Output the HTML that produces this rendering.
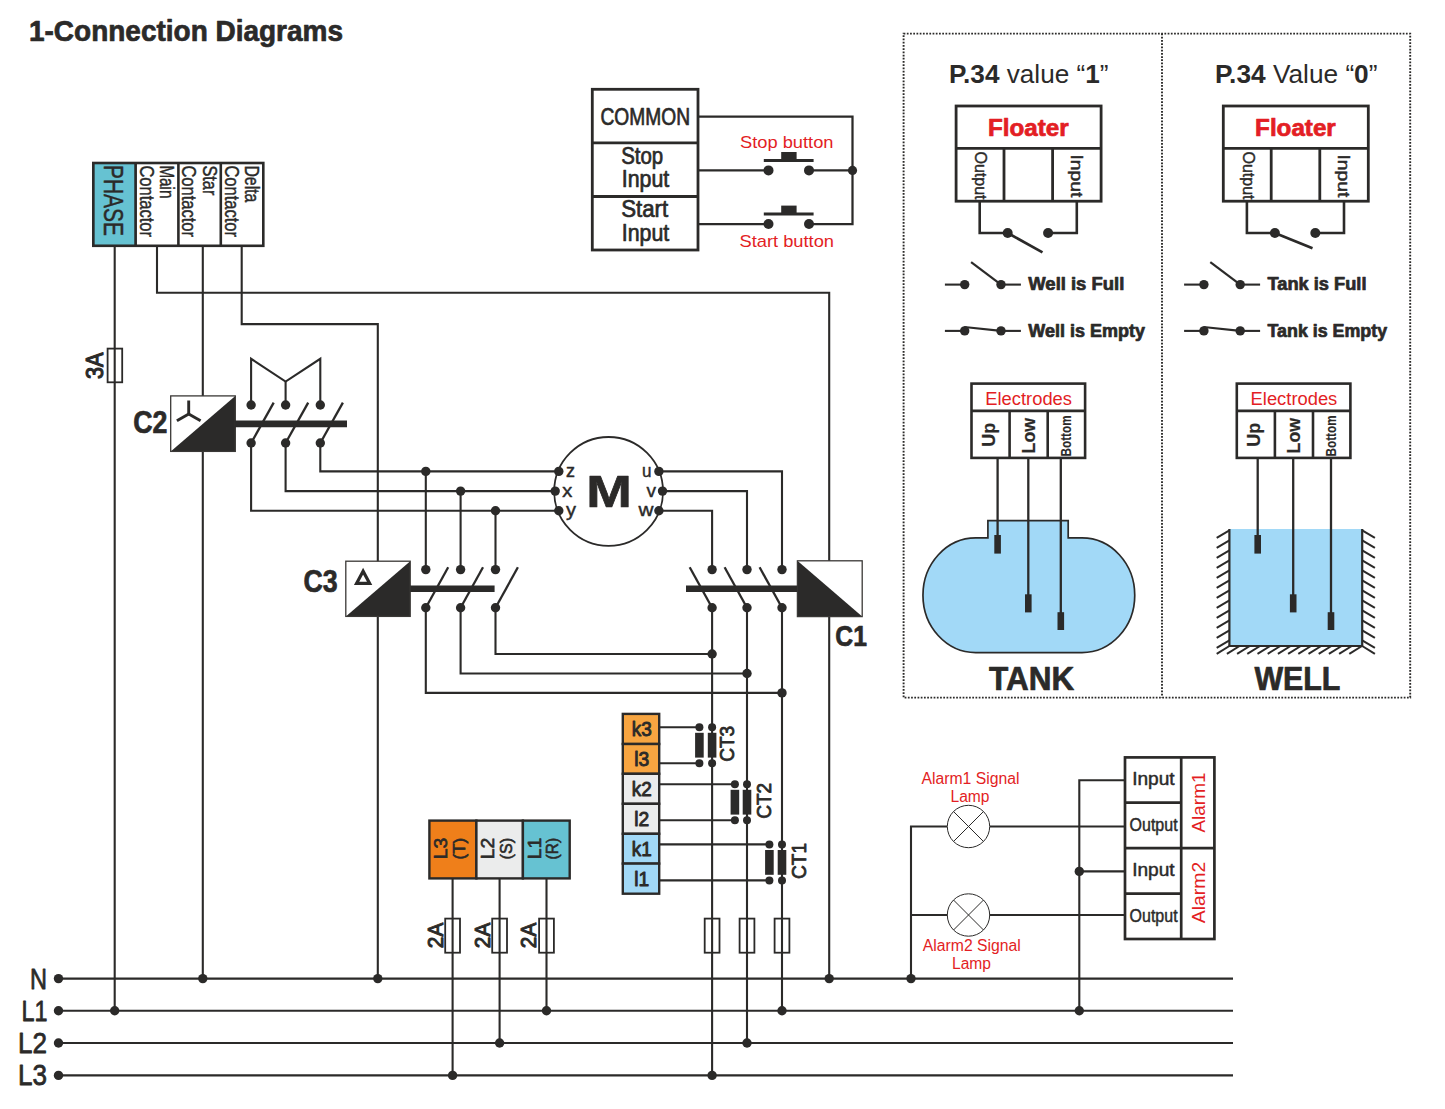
<!DOCTYPE html>
<html><head><meta charset="utf-8"><title>Connection Diagrams</title>
<style>html,body{margin:0;padding:0;background:#fff}svg{display:block}text{font-family:"Liberation Sans",sans-serif}</style></head>
<body>
<svg width="1445" height="1109" viewBox="0 0 1445 1109">
<rect width="1445" height="1109" fill="#fff"/>
<text x="29" y="41" font-size="29.5" font-weight="bold" fill="#2b2a29" text-anchor="start" textLength="314" lengthAdjust="spacingAndGlyphs"  stroke="#2b2a29" stroke-width="0.7" stroke-linejoin="round">1-Connection Diagrams</text>
<line x1="58.5" y1="978.6" x2="1233" y2="978.6" stroke="#2b2a29" stroke-width="2.1" />
<circle cx="58.5" cy="978.6" r="4.7" fill="#2b2a29"/>
<line x1="58.5" y1="1010.7" x2="1233" y2="1010.7" stroke="#2b2a29" stroke-width="2.1" />
<circle cx="58.5" cy="1010.7" r="4.7" fill="#2b2a29"/>
<line x1="58.5" y1="1043" x2="1233" y2="1043" stroke="#2b2a29" stroke-width="2.1" />
<circle cx="58.5" cy="1043" r="4.7" fill="#2b2a29"/>
<line x1="58.5" y1="1075.4" x2="1233" y2="1075.4" stroke="#2b2a29" stroke-width="2.1" />
<circle cx="58.5" cy="1075.4" r="4.7" fill="#2b2a29"/>
<text x="30" y="988.6" font-size="30.3" fill="#2b2a29" text-anchor="start" textLength="17" lengthAdjust="spacingAndGlyphs"  stroke="#2b2a29" stroke-width="0.8" stroke-linejoin="round">N</text>
<text x="21.5" y="1020.7" font-size="30.3" fill="#2b2a29" text-anchor="start" textLength="26" lengthAdjust="spacingAndGlyphs"  stroke="#2b2a29" stroke-width="0.8" stroke-linejoin="round">L1</text>
<text x="18" y="1053" font-size="30.3" fill="#2b2a29" text-anchor="start" textLength="29" lengthAdjust="spacingAndGlyphs"  stroke="#2b2a29" stroke-width="0.8" stroke-linejoin="round">L2</text>
<text x="18" y="1085.4" font-size="30.3" fill="#2b2a29" text-anchor="start" textLength="29" lengthAdjust="spacingAndGlyphs"  stroke="#2b2a29" stroke-width="0.8" stroke-linejoin="round">L3</text>
<rect x="93.3" y="163" width="42.4" height="82.8" fill="#66c2d2" stroke="#2b2a29" stroke-width="1.7"/>
<rect x="93.3" y="163" width="170.0" height="82.8" fill="none" stroke="#2b2a29" stroke-width="2.6"/>
<line x1="135.6" y1="163" x2="135.6" y2="245.8" stroke="#2b2a29" stroke-width="2.6" />
<line x1="178.4" y1="163" x2="178.4" y2="245.8" stroke="#2b2a29" stroke-width="2.6" />
<line x1="220.8" y1="163" x2="220.8" y2="245.8" stroke="#2b2a29" stroke-width="2.6" />
<text x="104.3" y="165" font-size="28.5" fill="#2b2a29" text-anchor="start" textLength="71" lengthAdjust="spacingAndGlyphs" transform="rotate(90 104.3 165)"  stroke="#2b2a29" stroke-width="0.45" stroke-linejoin="round">PHASE</text>
<text x="139.8" y="165.4" font-size="20.5" fill="#2b2a29" text-anchor="start" textLength="71.5" lengthAdjust="spacingAndGlyphs" transform="rotate(90 139.8 165.4)"  stroke="#2b2a29" stroke-width="0.45" stroke-linejoin="round">Contactor</text>
<text x="160.10000000000002" y="165.4" font-size="20.5" fill="#2b2a29" text-anchor="start" textLength="33" lengthAdjust="spacingAndGlyphs" transform="rotate(90 160.10000000000002 165.4)"  stroke="#2b2a29" stroke-width="0.45" stroke-linejoin="round">Main</text>
<text x="182.3" y="165.4" font-size="20.5" fill="#2b2a29" text-anchor="start" textLength="71.5" lengthAdjust="spacingAndGlyphs" transform="rotate(90 182.3 165.4)"  stroke="#2b2a29" stroke-width="0.45" stroke-linejoin="round">Contactor</text>
<text x="202.60000000000002" y="165.4" font-size="20.5" fill="#2b2a29" text-anchor="start" textLength="30" lengthAdjust="spacingAndGlyphs" transform="rotate(90 202.60000000000002 165.4)"  stroke="#2b2a29" stroke-width="0.45" stroke-linejoin="round">Star</text>
<text x="224.8" y="165.4" font-size="20.5" fill="#2b2a29" text-anchor="start" textLength="71.5" lengthAdjust="spacingAndGlyphs" transform="rotate(90 224.8 165.4)"  stroke="#2b2a29" stroke-width="0.45" stroke-linejoin="round">Contactor</text>
<text x="245.10000000000002" y="165.4" font-size="20.5" fill="#2b2a29" text-anchor="start" textLength="37" lengthAdjust="spacingAndGlyphs" transform="rotate(90 245.10000000000002 165.4)"  stroke="#2b2a29" stroke-width="0.45" stroke-linejoin="round">Delta</text>
<line x1="114.7" y1="246" x2="114.7" y2="1010.7" stroke="#2b2a29" stroke-width="2.1" />
<circle cx="114.7" cy="1010.7" r="4.7" fill="#2b2a29"/>
<rect x="107.6" y="348.6" width="14.6" height="33.7" fill="#fff" stroke="#2b2a29" stroke-width="1.8"/>
<line x1="114.7" y1="348.6" x2="114.7" y2="382.3" stroke="#2b2a29" stroke-width="2.1" />
<text x="103.3" y="379" font-size="23" fill="#2b2a29" text-anchor="start" textLength="26.5" lengthAdjust="spacingAndGlyphs" transform="rotate(-90 103.3 379)"  stroke="#2b2a29" stroke-width="1.1" stroke-linejoin="round">3A</text>
<polyline points="157,246 157,292.7 829.2,292.7 829.2,561" fill="none" stroke="#2b2a29" stroke-width="2.1" stroke-linejoin="miter" />
<line x1="829.2" y1="616" x2="829.2" y2="978.6" stroke="#2b2a29" stroke-width="2.1" />
<circle cx="829.2" cy="978.6" r="4.7" fill="#2b2a29"/>
<line x1="202.8" y1="246" x2="202.8" y2="978.6" stroke="#2b2a29" stroke-width="2.1" />
<circle cx="202.8" cy="978.6" r="4.7" fill="#2b2a29"/>
<polyline points="241.7,246 241.7,324.1 377.8,324.1 377.8,978.6" fill="none" stroke="#2b2a29" stroke-width="2.1" stroke-linejoin="miter" />
<circle cx="377.8" cy="978.6" r="4.7" fill="#2b2a29"/>
<rect x="170.7" y="395.9" width="64.6" height="55.5" fill="#fff" stroke="#2b2a29" stroke-width="0"/>
<polygon points="235.3,395.9 235.3,451.4 170.7,451.4" fill="#2b2a29"/>
<rect x="170.7" y="395.9" width="64.6" height="55.5" fill="none" stroke="#3a3836" stroke-width="1.3"/>
<line x1="188.7" y1="414" x2="188.7" y2="400.5" stroke="#2b2a29" stroke-width="2.9" />
<line x1="188.7" y1="414" x2="176.9" y2="420.8" stroke="#2b2a29" stroke-width="2.9" />
<line x1="188.7" y1="414" x2="200.6" y2="420.8" stroke="#2b2a29" stroke-width="2.9" />
<text x="133.2" y="433" font-size="30.5" font-weight="bold" fill="#2b2a29" text-anchor="start" textLength="34.2" lengthAdjust="spacingAndGlyphs"  stroke="#2b2a29" stroke-width="0.7" stroke-linejoin="round">C2</text>
<line x1="234.8" y1="423.9" x2="347" y2="423.9" stroke="#2b2a29" stroke-width="6.6" />
<circle cx="251.1" cy="405" r="4.7" fill="#2b2a29"/>
<circle cx="251.1" cy="443" r="4.7" fill="#2b2a29"/>
<line x1="250.7" y1="443.8" x2="273.7" y2="402.6" stroke="#2b2a29" stroke-width="2.3" />
<circle cx="285.6" cy="405" r="4.7" fill="#2b2a29"/>
<circle cx="285.6" cy="443" r="4.7" fill="#2b2a29"/>
<line x1="285.20000000000005" y1="443.8" x2="308.20000000000005" y2="402.6" stroke="#2b2a29" stroke-width="2.3" />
<circle cx="320.3" cy="405" r="4.7" fill="#2b2a29"/>
<circle cx="320.3" cy="443" r="4.7" fill="#2b2a29"/>
<line x1="319.90000000000003" y1="443.8" x2="342.90000000000003" y2="402.6" stroke="#2b2a29" stroke-width="2.3" />
<polyline points="251.1,405 251.1,358.8 285.6,381.6 320.3,358.8 320.3,405" fill="none" stroke="#2b2a29" stroke-width="2.1" stroke-linejoin="miter" />
<line x1="285.6" y1="381.6" x2="285.6" y2="405" stroke="#2b2a29" stroke-width="2.1" />
<polyline points="320.3,443 320.3,471.4 558.8,471.4" fill="none" stroke="#2b2a29" stroke-width="2.1" stroke-linejoin="miter" />
<polyline points="285.6,443 285.6,491.1 555.2,491.1" fill="none" stroke="#2b2a29" stroke-width="2.1" stroke-linejoin="miter" />
<polyline points="251.1,443 251.1,510.8 558.8,510.8" fill="none" stroke="#2b2a29" stroke-width="2.1" stroke-linejoin="miter" />
<circle cx="608.6" cy="491.4" r="54.4" fill="#fff" stroke="#2b2a29" stroke-width="1.8"/>
<circle cx="558.8" cy="471.4" r="4.7" fill="#2b2a29"/>
<circle cx="555.2" cy="491.1" r="4.7" fill="#2b2a29"/>
<circle cx="558.8" cy="510.8" r="4.7" fill="#2b2a29"/>
<circle cx="658.9" cy="471.4" r="4.7" fill="#2b2a29"/>
<circle cx="662.5" cy="491.1" r="4.7" fill="#2b2a29"/>
<circle cx="658.9" cy="510.8" r="4.7" fill="#2b2a29"/>
<text x="586.3" y="506.6" font-size="45" font-weight="bold" fill="#2b2a29" text-anchor="start" textLength="45.6" lengthAdjust="spacingAndGlyphs"  stroke="#2b2a29" stroke-width="0.7" stroke-linejoin="round">M</text>
<text x="566" y="476.8" font-size="19" fill="#2b2a29" text-anchor="start" textLength="9" lengthAdjust="spacingAndGlyphs"  stroke="#2b2a29" stroke-width="0.45" stroke-linejoin="round">z</text>
<text x="562.3" y="497.2" font-size="19" fill="#2b2a29" text-anchor="start" textLength="10" lengthAdjust="spacingAndGlyphs"  stroke="#2b2a29" stroke-width="0.45" stroke-linejoin="round">x</text>
<text x="566" y="516.2" font-size="19" fill="#2b2a29" text-anchor="start" textLength="10" lengthAdjust="spacingAndGlyphs"  stroke="#2b2a29" stroke-width="0.45" stroke-linejoin="round">y</text>
<text x="642" y="476.8" font-size="19" fill="#2b2a29" text-anchor="start" textLength="9.5" lengthAdjust="spacingAndGlyphs"  stroke="#2b2a29" stroke-width="0.45" stroke-linejoin="round">u</text>
<text x="646.5" y="497.2" font-size="19" fill="#2b2a29" text-anchor="start" textLength="9.5" lengthAdjust="spacingAndGlyphs"  stroke="#2b2a29" stroke-width="0.45" stroke-linejoin="round">v</text>
<text x="638.4" y="516.2" font-size="19" fill="#2b2a29" text-anchor="start" textLength="15" lengthAdjust="spacingAndGlyphs"  stroke="#2b2a29" stroke-width="0.45" stroke-linejoin="round">w</text>
<rect x="345.8" y="561.2" width="64.4" height="55.2" fill="#fff" stroke="#2b2a29" stroke-width="0"/>
<polygon points="410.2,561.2 410.2,616.4 345.8,616.4" fill="#2b2a29"/>
<rect x="345.8" y="561.2" width="64.4" height="55.2" fill="none" stroke="#3a3836" stroke-width="1.3"/>
<polygon points="363.1,571.2 356.6,583.3 369.6,583.3" fill="none" stroke="#2b2a29" stroke-width="3.2" stroke-linejoin="miter"/>
<text x="303.4" y="592.4" font-size="30.5" font-weight="bold" fill="#2b2a29" text-anchor="start" textLength="34.2" lengthAdjust="spacingAndGlyphs"  stroke="#2b2a29" stroke-width="0.7" stroke-linejoin="round">C3</text>
<line x1="410.2" y1="588.7" x2="494.6" y2="588.7" stroke="#2b2a29" stroke-width="6.6" />
<circle cx="425.8" cy="569.6" r="4.7" fill="#2b2a29"/>
<circle cx="425.8" cy="607.7" r="4.7" fill="#2b2a29"/>
<line x1="425.40000000000003" y1="608.5" x2="448.2" y2="567.3" stroke="#2b2a29" stroke-width="2.3" />
<line x1="425.8" y1="471.4" x2="425.8" y2="569.2" stroke="#2b2a29" stroke-width="2.1" />
<circle cx="425.8" cy="471.4" r="4.7" fill="#2b2a29"/>
<circle cx="460.6" cy="569.6" r="4.7" fill="#2b2a29"/>
<circle cx="460.6" cy="607.7" r="4.7" fill="#2b2a29"/>
<line x1="460.20000000000005" y1="608.5" x2="483.0" y2="567.3" stroke="#2b2a29" stroke-width="2.3" />
<line x1="460.6" y1="491.1" x2="460.6" y2="569.2" stroke="#2b2a29" stroke-width="2.1" />
<circle cx="460.6" cy="491.1" r="4.7" fill="#2b2a29"/>
<circle cx="495.5" cy="569.6" r="4.7" fill="#2b2a29"/>
<circle cx="495.5" cy="607.7" r="4.7" fill="#2b2a29"/>
<line x1="495.1" y1="608.5" x2="517.9" y2="567.3" stroke="#2b2a29" stroke-width="2.3" />
<line x1="495.5" y1="510.8" x2="495.5" y2="569.2" stroke="#2b2a29" stroke-width="2.1" />
<circle cx="495.5" cy="510.8" r="4.7" fill="#2b2a29"/>
<rect x="797.4" y="560.8" width="64.8" height="55.8" fill="#fff" stroke="#2b2a29" stroke-width="0"/>
<polygon points="797.4,560.8 797.4,616.6 862.2,616.6" fill="#2b2a29"/>
<rect x="797.4" y="560.8" width="64.8" height="55.8" fill="none" stroke="#3a3836" stroke-width="1.3"/>
<text x="835.3" y="645.7" font-size="30" font-weight="bold" fill="#2b2a29" text-anchor="start" textLength="31.6" lengthAdjust="spacingAndGlyphs"  stroke="#2b2a29" stroke-width="0.7" stroke-linejoin="round">C1</text>
<line x1="686" y1="588.7" x2="797.4" y2="588.7" stroke="#2b2a29" stroke-width="6.6" />
<circle cx="712.1" cy="569.6" r="4.7" fill="#2b2a29"/>
<circle cx="712.1" cy="607.7" r="4.7" fill="#2b2a29"/>
<line x1="712.5" y1="608.5" x2="689.7" y2="567.3" stroke="#2b2a29" stroke-width="2.3" />
<circle cx="747" cy="569.6" r="4.7" fill="#2b2a29"/>
<circle cx="747" cy="607.7" r="4.7" fill="#2b2a29"/>
<line x1="747.4" y1="608.5" x2="724.6" y2="567.3" stroke="#2b2a29" stroke-width="2.3" />
<circle cx="782" cy="569.6" r="4.7" fill="#2b2a29"/>
<circle cx="782" cy="607.7" r="4.7" fill="#2b2a29"/>
<line x1="782.4" y1="608.5" x2="759.6" y2="567.3" stroke="#2b2a29" stroke-width="2.3" />
<polyline points="658.9,471.4 782,471.4 782,569.2" fill="none" stroke="#2b2a29" stroke-width="2.1" stroke-linejoin="miter" />
<polyline points="662.5,491.1 747,491.1 747,569.2" fill="none" stroke="#2b2a29" stroke-width="2.1" stroke-linejoin="miter" />
<polyline points="658.9,510.8 712.1,510.8 712.1,569.2" fill="none" stroke="#2b2a29" stroke-width="2.1" stroke-linejoin="miter" />
<polyline points="495.5,607.7 495.5,654 712.1,654" fill="none" stroke="#2b2a29" stroke-width="2.1" stroke-linejoin="miter" />
<circle cx="712.1" cy="654" r="4.7" fill="#2b2a29"/>
<polyline points="460.6,607.7 460.6,673.5 747,673.5" fill="none" stroke="#2b2a29" stroke-width="2.1" stroke-linejoin="miter" />
<circle cx="747" cy="673.5" r="4.7" fill="#2b2a29"/>
<polyline points="425.8,607.7 425.8,692.9 782,692.9" fill="none" stroke="#2b2a29" stroke-width="2.1" stroke-linejoin="miter" />
<circle cx="782" cy="692.9" r="4.7" fill="#2b2a29"/>
<line x1="712.1" y1="607.7" x2="712.1" y2="1075.4" stroke="#2b2a29" stroke-width="2.1" />
<circle cx="712.1" cy="1075.4" r="4.7" fill="#2b2a29"/>
<rect x="704.7" y="918.6" width="14.8" height="34.1" fill="#fff" stroke="#2b2a29" stroke-width="1.8"/>
<line x1="712.1" y1="918.6" x2="712.1" y2="952.7" stroke="#2b2a29" stroke-width="2.1" />
<line x1="747" y1="607.7" x2="747" y2="1043" stroke="#2b2a29" stroke-width="2.1" />
<circle cx="747" cy="1043" r="4.7" fill="#2b2a29"/>
<rect x="739.6" y="918.6" width="14.8" height="34.1" fill="#fff" stroke="#2b2a29" stroke-width="1.8"/>
<line x1="747" y1="918.6" x2="747" y2="952.7" stroke="#2b2a29" stroke-width="2.1" />
<line x1="782" y1="607.7" x2="782" y2="1010.7" stroke="#2b2a29" stroke-width="2.1" />
<circle cx="782" cy="1010.7" r="4.7" fill="#2b2a29"/>
<rect x="774.6" y="918.6" width="14.8" height="34.1" fill="#fff" stroke="#2b2a29" stroke-width="1.8"/>
<line x1="782" y1="918.6" x2="782" y2="952.7" stroke="#2b2a29" stroke-width="2.1" />
<rect x="429.4" y="820.6" width="47.0" height="57.8" fill="#ef7f1a" stroke="#2b2a29" stroke-width="2.4"/>
<rect x="476.4" y="820.6" width="46.5" height="57.8" fill="#ebecec" stroke="#2b2a29" stroke-width="2.4"/>
<rect x="522.9" y="820.6" width="46.8" height="57.8" fill="#66c2d2" stroke="#2b2a29" stroke-width="2.4"/>
<text x="447.5" y="859.2" font-size="18.2" fill="#2b2a29" text-anchor="start" textLength="21.5" lengthAdjust="spacingAndGlyphs" transform="rotate(-90 447.5 859.2)"  stroke="#2b2a29" stroke-width="0.65" stroke-linejoin="round">L3</text>
<text x="464.79999999999995" y="859.4" font-size="17.2" fill="#2b2a29" text-anchor="start" textLength="21.5" lengthAdjust="spacingAndGlyphs" transform="rotate(-90 464.79999999999995 859.4)"  stroke="#2b2a29" stroke-width="0.65" stroke-linejoin="round">(T)</text>
<text x="494.5" y="859.2" font-size="18.2" fill="#2b2a29" text-anchor="start" textLength="21.5" lengthAdjust="spacingAndGlyphs" transform="rotate(-90 494.5 859.2)"  stroke="#2b2a29" stroke-width="0.65" stroke-linejoin="round">L2</text>
<text x="511.79999999999995" y="859.4" font-size="17.2" fill="#2b2a29" text-anchor="start" textLength="21.5" lengthAdjust="spacingAndGlyphs" transform="rotate(-90 511.79999999999995 859.4)"  stroke="#2b2a29" stroke-width="0.65" stroke-linejoin="round">(S)</text>
<text x="541.0" y="859.2" font-size="18.2" fill="#2b2a29" text-anchor="start" textLength="21.5" lengthAdjust="spacingAndGlyphs" transform="rotate(-90 541.0 859.2)"  stroke="#2b2a29" stroke-width="0.65" stroke-linejoin="round">L1</text>
<text x="558.3" y="859.4" font-size="17.2" fill="#2b2a29" text-anchor="start" textLength="21.5" lengthAdjust="spacingAndGlyphs" transform="rotate(-90 558.3 859.4)"  stroke="#2b2a29" stroke-width="0.65" stroke-linejoin="round">(R)</text>
<line x1="452.6" y1="878.4" x2="452.6" y2="1075.4" stroke="#2b2a29" stroke-width="2.1" />
<circle cx="452.6" cy="1075.4" r="4.7" fill="#2b2a29"/>
<rect x="445.20000000000005" y="918.6" width="14.8" height="34.1" fill="#fff" stroke="#2b2a29" stroke-width="1.8"/>
<line x1="452.6" y1="918.6" x2="452.6" y2="952.7" stroke="#2b2a29" stroke-width="2.1" />
<text x="442.6" y="948.2" font-size="22" fill="#2b2a29" text-anchor="start" textLength="25.5" lengthAdjust="spacingAndGlyphs" transform="rotate(-90 442.6 948.2)"  stroke="#2b2a29" stroke-width="1.0" stroke-linejoin="round">2A</text>
<line x1="499.6" y1="878.4" x2="499.6" y2="1043" stroke="#2b2a29" stroke-width="2.1" />
<circle cx="499.6" cy="1043" r="4.7" fill="#2b2a29"/>
<rect x="492.20000000000005" y="918.6" width="14.8" height="34.1" fill="#fff" stroke="#2b2a29" stroke-width="1.8"/>
<line x1="499.6" y1="918.6" x2="499.6" y2="952.7" stroke="#2b2a29" stroke-width="2.1" />
<text x="489.6" y="948.2" font-size="22" fill="#2b2a29" text-anchor="start" textLength="25.5" lengthAdjust="spacingAndGlyphs" transform="rotate(-90 489.6 948.2)"  stroke="#2b2a29" stroke-width="1.0" stroke-linejoin="round">2A</text>
<line x1="546.5" y1="878.4" x2="546.5" y2="1010.7" stroke="#2b2a29" stroke-width="2.1" />
<circle cx="546.5" cy="1010.7" r="4.7" fill="#2b2a29"/>
<rect x="539.1" y="918.6" width="14.8" height="34.1" fill="#fff" stroke="#2b2a29" stroke-width="1.8"/>
<line x1="546.5" y1="918.6" x2="546.5" y2="952.7" stroke="#2b2a29" stroke-width="2.1" />
<text x="536.5" y="948.2" font-size="22" fill="#2b2a29" text-anchor="start" textLength="25.5" lengthAdjust="spacingAndGlyphs" transform="rotate(-90 536.5 948.2)"  stroke="#2b2a29" stroke-width="1.0" stroke-linejoin="round">2A</text>
<rect x="622.8" y="713.9" width="36.4" height="30.1" fill="#f7a541" stroke="#2b2a29" stroke-width="2.4"/>
<text x="631.8" y="736.0" font-size="19.5" fill="#2b2a29" text-anchor="start" textLength="20" lengthAdjust="spacingAndGlyphs"  stroke="#2b2a29" stroke-width="0.9" stroke-linejoin="round">k3</text>
<rect x="622.8" y="744" width="36.4" height="29.8" fill="#f7a541" stroke="#2b2a29" stroke-width="2.4"/>
<text x="634.2" y="766.1" font-size="19.5" fill="#2b2a29" text-anchor="start" textLength="15" lengthAdjust="spacingAndGlyphs"  stroke="#2b2a29" stroke-width="0.9" stroke-linejoin="round">l3</text>
<rect x="622.8" y="773.8" width="36.4" height="30.0" fill="#ebecec" stroke="#2b2a29" stroke-width="2.4"/>
<text x="631.8" y="795.9" font-size="19.5" fill="#2b2a29" text-anchor="start" textLength="20" lengthAdjust="spacingAndGlyphs"  stroke="#2b2a29" stroke-width="0.9" stroke-linejoin="round">k2</text>
<rect x="622.8" y="803.8" width="36.4" height="30.0" fill="#ebecec" stroke="#2b2a29" stroke-width="2.4"/>
<text x="634.2" y="825.9" font-size="19.5" fill="#2b2a29" text-anchor="start" textLength="15" lengthAdjust="spacingAndGlyphs"  stroke="#2b2a29" stroke-width="0.9" stroke-linejoin="round">l2</text>
<rect x="622.8" y="833.8" width="36.4" height="29.8" fill="#a2d9f7" stroke="#2b2a29" stroke-width="2.4"/>
<text x="631.8" y="855.9" font-size="19.5" fill="#2b2a29" text-anchor="start" textLength="20" lengthAdjust="spacingAndGlyphs"  stroke="#2b2a29" stroke-width="0.9" stroke-linejoin="round">k1</text>
<rect x="622.8" y="863.6" width="36.4" height="30.1" fill="#a2d9f7" stroke="#2b2a29" stroke-width="2.4"/>
<text x="634.2" y="885.7" font-size="19.5" fill="#2b2a29" text-anchor="start" textLength="15" lengthAdjust="spacingAndGlyphs"  stroke="#2b2a29" stroke-width="0.9" stroke-linejoin="round">l1</text>
<line x1="659.2" y1="727.2" x2="699.4" y2="727.2" stroke="#2b2a29" stroke-width="2.1" />
<line x1="659.2" y1="763.2" x2="699.4" y2="763.2" stroke="#2b2a29" stroke-width="2.1" />
<circle cx="699.4" cy="727.2" r="4" fill="#2b2a29"/>
<circle cx="699.4" cy="763.2" r="4" fill="#2b2a29"/>
<rect x="695.1" y="732.8000000000001" width="8.6" height="24.8" fill="#2b2a29"/>
<circle cx="712.1" cy="727.2" r="4" fill="#2b2a29"/>
<circle cx="712.1" cy="763.2" r="4" fill="#2b2a29"/>
<rect x="707.8000000000001" y="732.8000000000001" width="8.6" height="24.8" fill="#2b2a29"/>
<text x="734.1" y="761.8000000000001" font-size="20.2" fill="#2b2a29" text-anchor="start" textLength="36" lengthAdjust="spacingAndGlyphs" transform="rotate(-90 734.1 761.8000000000001)"  stroke="#2b2a29" stroke-width="0.8" stroke-linejoin="round">CT3</text>
<line x1="659.2" y1="784.2" x2="734.9" y2="784.2" stroke="#2b2a29" stroke-width="2.1" />
<line x1="659.2" y1="820.2" x2="734.9" y2="820.2" stroke="#2b2a29" stroke-width="2.1" />
<circle cx="734.9" cy="784.2" r="4" fill="#2b2a29"/>
<circle cx="734.9" cy="820.2" r="4" fill="#2b2a29"/>
<rect x="730.6" y="789.8000000000001" width="8.6" height="24.8" fill="#2b2a29"/>
<circle cx="747" cy="784.2" r="4" fill="#2b2a29"/>
<circle cx="747" cy="820.2" r="4" fill="#2b2a29"/>
<rect x="742.7" y="789.8000000000001" width="8.6" height="24.8" fill="#2b2a29"/>
<text x="771" y="818.8000000000001" font-size="20.2" fill="#2b2a29" text-anchor="start" textLength="36" lengthAdjust="spacingAndGlyphs" transform="rotate(-90 771 818.8000000000001)"  stroke="#2b2a29" stroke-width="0.8" stroke-linejoin="round">CT2</text>
<line x1="659.2" y1="844.4" x2="769.4" y2="844.4" stroke="#2b2a29" stroke-width="2.1" />
<line x1="659.2" y1="880.4" x2="769.4" y2="880.4" stroke="#2b2a29" stroke-width="2.1" />
<circle cx="769.4" cy="844.4" r="4" fill="#2b2a29"/>
<circle cx="769.4" cy="880.4" r="4" fill="#2b2a29"/>
<rect x="765.1" y="850.0" width="8.6" height="24.8" fill="#2b2a29"/>
<circle cx="782" cy="844.4" r="4" fill="#2b2a29"/>
<circle cx="782" cy="880.4" r="4" fill="#2b2a29"/>
<rect x="777.7" y="850.0" width="8.6" height="24.8" fill="#2b2a29"/>
<text x="806" y="879.0" font-size="20.2" fill="#2b2a29" text-anchor="start" textLength="36" lengthAdjust="spacingAndGlyphs" transform="rotate(-90 806 879.0)"  stroke="#2b2a29" stroke-width="0.8" stroke-linejoin="round">CT1</text>
<rect x="592.3" y="89.3" width="105.7" height="160.7" fill="none" stroke="#2b2a29" stroke-width="2.8"/>
<line x1="592.3" y1="142.8" x2="698" y2="142.8" stroke="#2b2a29" stroke-width="2.8" />
<line x1="592.3" y1="196.5" x2="698" y2="196.5" stroke="#2b2a29" stroke-width="2.8" />
<text x="600.5" y="124.8" font-size="23.5" fill="#2b2a29" text-anchor="start" textLength="89.5" lengthAdjust="spacingAndGlyphs"  stroke="#2b2a29" stroke-width="0.7" stroke-linejoin="round">COMMON</text>
<text x="621.2" y="164.2" font-size="23.5" fill="#2b2a29" text-anchor="start" textLength="42" lengthAdjust="spacingAndGlyphs"  stroke="#2b2a29" stroke-width="0.7" stroke-linejoin="round">Stop</text>
<text x="621.8" y="187.2" font-size="23.5" fill="#2b2a29" text-anchor="start" textLength="47.5" lengthAdjust="spacingAndGlyphs"  stroke="#2b2a29" stroke-width="0.7" stroke-linejoin="round">Input</text>
<text x="621.2" y="217.4" font-size="23.5" fill="#2b2a29" text-anchor="start" textLength="47" lengthAdjust="spacingAndGlyphs"  stroke="#2b2a29" stroke-width="0.7" stroke-linejoin="round">Start</text>
<text x="621.8" y="240.6" font-size="23.5" fill="#2b2a29" text-anchor="start" textLength="47.5" lengthAdjust="spacingAndGlyphs"  stroke="#2b2a29" stroke-width="0.7" stroke-linejoin="round">Input</text>
<polyline points="698,116.5 852.5,116.5 852.5,224 809,224" fill="none" stroke="#2b2a29" stroke-width="2.25" stroke-linejoin="miter" />
<line x1="698" y1="170.4" x2="768.5" y2="170.4" stroke="#2b2a29" stroke-width="2.25" />
<line x1="809" y1="170.4" x2="852.5" y2="170.4" stroke="#2b2a29" stroke-width="2.25" />
<line x1="698" y1="224" x2="768.5" y2="224" stroke="#2b2a29" stroke-width="2.25" />
<circle cx="852.5" cy="170.4" r="4.6" fill="#2b2a29"/>
<circle cx="768.5" cy="170.4" r="5" fill="#2b2a29"/>
<circle cx="809" cy="170.4" r="5" fill="#2b2a29"/>
<line x1="763.8" y1="160.5" x2="813.6" y2="160.5" stroke="#2b2a29" stroke-width="3" />
<rect x="781.2" y="152.0" width="15.4" height="8.5" fill="#2b2a29"/>
<circle cx="768.5" cy="224" r="5" fill="#2b2a29"/>
<circle cx="809" cy="224" r="5" fill="#2b2a29"/>
<line x1="763.8" y1="214.1" x2="813.6" y2="214.1" stroke="#2b2a29" stroke-width="3" />
<rect x="781.2" y="205.6" width="15.4" height="8.5" fill="#2b2a29"/>
<text x="740" y="147.6" font-size="16.6" fill="#e31e24" text-anchor="start" textLength="93.5" lengthAdjust="spacingAndGlyphs" >Stop button</text>
<text x="739.5" y="247.2" font-size="16.6" fill="#e31e24" text-anchor="start" textLength="94.5" lengthAdjust="spacingAndGlyphs" >Start button</text>
<rect x="1125" y="757.4" width="89.4" height="181.6" fill="none" stroke="#2b2a29" stroke-width="2.7"/>
<line x1="1181.2" y1="757.4" x2="1181.2" y2="939" stroke="#2b2a29" stroke-width="2.7" />
<line x1="1125" y1="848.2" x2="1214.4" y2="848.2" stroke="#2b2a29" stroke-width="2.7" />
<line x1="1125" y1="802.7" x2="1181.2" y2="802.7" stroke="#2b2a29" stroke-width="2.7" />
<line x1="1125" y1="893.7" x2="1181.2" y2="893.7" stroke="#2b2a29" stroke-width="2.7" />
<text x="1132.2" y="785" font-size="17.5" fill="#2b2a29" text-anchor="start" textLength="42.5" lengthAdjust="spacingAndGlyphs"  stroke="#2b2a29" stroke-width="0.45" stroke-linejoin="round">Input</text>
<text x="1129.6" y="831" font-size="17.5" fill="#2b2a29" text-anchor="start" textLength="48" lengthAdjust="spacingAndGlyphs"  stroke="#2b2a29" stroke-width="0.45" stroke-linejoin="round">Output</text>
<text x="1132.2" y="876" font-size="17.5" fill="#2b2a29" text-anchor="start" textLength="42.5" lengthAdjust="spacingAndGlyphs"  stroke="#2b2a29" stroke-width="0.45" stroke-linejoin="round">Input</text>
<text x="1129.6" y="922" font-size="17.5" fill="#2b2a29" text-anchor="start" textLength="48" lengthAdjust="spacingAndGlyphs"  stroke="#2b2a29" stroke-width="0.45" stroke-linejoin="round">Output</text>
<text x="1205.2" y="832.5" font-size="19" fill="#e31e24" text-anchor="start" textLength="60" lengthAdjust="spacingAndGlyphs" transform="rotate(-90 1205.2 832.5)" >Alarm1</text>
<text x="1205.2" y="923.2" font-size="19" fill="#e31e24" text-anchor="start" textLength="61.5" lengthAdjust="spacingAndGlyphs" transform="rotate(-90 1205.2 923.2)" >Alarm2</text>
<polyline points="1125,780.3 1079.3,780.3 1079.3,1010.7" fill="none" stroke="#2b2a29" stroke-width="2.1" stroke-linejoin="miter" />
<circle cx="1079.3" cy="1010.7" r="4.7" fill="#2b2a29"/>
<line x1="1079.3" y1="871.4" x2="1125" y2="871.4" stroke="#2b2a29" stroke-width="2.1" />
<circle cx="1079.3" cy="871.4" r="4.7" fill="#2b2a29"/>
<polyline points="947,826.5 911,826.5 911,978.6" fill="none" stroke="#2b2a29" stroke-width="2.1" stroke-linejoin="miter" />
<circle cx="911" cy="978.6" r="4.7" fill="#2b2a29"/>
<line x1="911" y1="915" x2="947" y2="915" stroke="#2b2a29" stroke-width="2.1" />
<line x1="990" y1="826.5" x2="1125" y2="826.5" stroke="#2b2a29" stroke-width="2.1" />
<line x1="990" y1="915" x2="1125" y2="915" stroke="#2b2a29" stroke-width="2.1" />
<circle cx="968.5" cy="826.5" r="21.2" fill="#fff" stroke="#2b2a29" stroke-width="1"/>
<line x1="953.5" y1="811.5" x2="983.5" y2="841.5" stroke="#2b2a29" stroke-width="1" />
<line x1="953.5" y1="841.5" x2="983.5" y2="811.5" stroke="#2b2a29" stroke-width="1" />
<circle cx="968.5" cy="915" r="21.2" fill="#fff" stroke="#2b2a29" stroke-width="1"/>
<line x1="953.5" y1="900" x2="983.5" y2="930" stroke="#2b2a29" stroke-width="1" />
<line x1="953.5" y1="930" x2="983.5" y2="900" stroke="#2b2a29" stroke-width="1" />
<text x="921.5" y="783.8" font-size="15.6" fill="#e31e24" text-anchor="start" textLength="98" lengthAdjust="spacingAndGlyphs" >Alarm1 Signal</text>
<text x="950.5" y="801.8" font-size="15.6" fill="#e31e24" text-anchor="start" textLength="39" lengthAdjust="spacingAndGlyphs" >Lamp</text>
<text x="922.8" y="950.8" font-size="15.6" fill="#e31e24" text-anchor="start" textLength="98" lengthAdjust="spacingAndGlyphs" >Alarm2 Signal</text>
<text x="952" y="968.8" font-size="15.6" fill="#e31e24" text-anchor="start" textLength="39" lengthAdjust="spacingAndGlyphs" >Lamp</text>
<rect x="903.6" y="33.6" width="506.6" height="664.0" fill="none" stroke="#2b2a29" stroke-width="1.9" stroke-dasharray="1.75 1.47"/>
<line x1="1162" y1="33.6" x2="1162" y2="697.6" stroke="#2b2a29" stroke-width="1.9" stroke-dasharray="1.75 1.47"/>
<text x="949" y="82.8" font-size="26" fill="#2b2a29" textLength="159.5" lengthAdjust="spacingAndGlyphs"><tspan font-weight="bold">P.34</tspan> value “<tspan font-weight="bold">1</tspan>”</text>
<text x="1215" y="82.8" font-size="26" fill="#2b2a29" textLength="162.5" lengthAdjust="spacingAndGlyphs"><tspan font-weight="bold">P.34</tspan> Value “<tspan font-weight="bold">0</tspan>”</text>
<rect x="956.1" y="106" width="145.0" height="95.2" fill="none" stroke="#2b2a29" stroke-width="2.8"/>
<line x1="956.1" y1="148.4" x2="1101.1" y2="148.4" stroke="#2b2a29" stroke-width="2.8" />
<line x1="1004.0" y1="148.2" x2="1004.0" y2="201.2" stroke="#2b2a29" stroke-width="2.8" />
<line x1="1052.6" y1="148.2" x2="1052.6" y2="201.2" stroke="#2b2a29" stroke-width="2.8" />
<text x="987.9" y="135.8" font-size="23" font-weight="bold" fill="#e31e24" text-anchor="start" textLength="80.7" lengthAdjust="spacingAndGlyphs"  stroke="#e31e24" stroke-width="0.7" stroke-linejoin="round">Floater</text>
<text x="975.4" y="151.5" font-size="17" fill="#2b2a29" text-anchor="start" textLength="48" lengthAdjust="spacingAndGlyphs" transform="rotate(90 975.4 151.5)"  stroke="#2b2a29" stroke-width="0.45" stroke-linejoin="round">Output</text>
<text x="1070.6" y="154.5" font-size="17" fill="#2b2a29" text-anchor="start" textLength="43" lengthAdjust="spacingAndGlyphs" transform="rotate(90 1070.6 154.5)"  stroke="#2b2a29" stroke-width="0.45" stroke-linejoin="round">Input</text>
<polyline points="979.7,201.2 979.7,233 1007.7,233" fill="none" stroke="#2b2a29" stroke-width="2.6" stroke-linejoin="miter" />
<polyline points="1076.8,201.2 1076.8,233 1048.1,233" fill="none" stroke="#2b2a29" stroke-width="2.6" stroke-linejoin="miter" />
<circle cx="1007.7" cy="233" r="5" fill="#2b2a29"/>
<circle cx="1048.1" cy="233" r="5" fill="#2b2a29"/>
<line x1="1007.7" y1="233" x2="1042.5" y2="252.4" stroke="#2b2a29" stroke-width="2.7" />
<rect x="1223.3" y="106" width="145.0" height="95.2" fill="none" stroke="#2b2a29" stroke-width="2.8"/>
<line x1="1223.3" y1="148.4" x2="1368.3" y2="148.4" stroke="#2b2a29" stroke-width="2.8" />
<line x1="1271.2" y1="148.2" x2="1271.2" y2="201.2" stroke="#2b2a29" stroke-width="2.8" />
<line x1="1319.8" y1="148.2" x2="1319.8" y2="201.2" stroke="#2b2a29" stroke-width="2.8" />
<text x="1255.1" y="135.8" font-size="23" font-weight="bold" fill="#e31e24" text-anchor="start" textLength="80.7" lengthAdjust="spacingAndGlyphs"  stroke="#e31e24" stroke-width="0.7" stroke-linejoin="round">Floater</text>
<text x="1242.6" y="151.5" font-size="17" fill="#2b2a29" text-anchor="start" textLength="48" lengthAdjust="spacingAndGlyphs" transform="rotate(90 1242.6 151.5)"  stroke="#2b2a29" stroke-width="0.45" stroke-linejoin="round">Output</text>
<text x="1337.8" y="154.5" font-size="17" fill="#2b2a29" text-anchor="start" textLength="43" lengthAdjust="spacingAndGlyphs" transform="rotate(90 1337.8 154.5)"  stroke="#2b2a29" stroke-width="0.45" stroke-linejoin="round">Input</text>
<polyline points="1246.8999999999999,201.2 1246.8999999999999,233 1274.8999999999999,233" fill="none" stroke="#2b2a29" stroke-width="2.6" stroke-linejoin="miter" />
<polyline points="1344.0,201.2 1344.0,233 1315.3,233" fill="none" stroke="#2b2a29" stroke-width="2.6" stroke-linejoin="miter" />
<circle cx="1274.8999999999999" cy="233" r="5" fill="#2b2a29"/>
<circle cx="1315.3" cy="233" r="5" fill="#2b2a29"/>
<line x1="1274.8999999999999" y1="233" x2="1312.5" y2="248.2" stroke="#2b2a29" stroke-width="2.7" />
<line x1="944.9" y1="284.6" x2="964.6999999999999" y2="284.6" stroke="#2b2a29" stroke-width="2.1" />
<line x1="1001.0" y1="284.6" x2="1020.9" y2="284.6" stroke="#2b2a29" stroke-width="2.1" />
<line x1="944.9" y1="330.9" x2="964.6999999999999" y2="330.9" stroke="#2b2a29" stroke-width="2.1" />
<line x1="1001.0" y1="330.9" x2="1020.9" y2="330.9" stroke="#2b2a29" stroke-width="2.1" />
<circle cx="964.6999999999999" cy="284.6" r="4.7" fill="#2b2a29"/>
<circle cx="1001.0" cy="284.6" r="4.7" fill="#2b2a29"/>
<line x1="1001.0" y1="284.6" x2="971.1" y2="262.2" stroke="#2b2a29" stroke-width="2.2" />
<circle cx="964.6999999999999" cy="330.9" r="4.7" fill="#2b2a29"/>
<circle cx="1001.0" cy="330.9" r="4.7" fill="#2b2a29"/>
<line x1="964.1999999999999" y1="327" x2="1001.0" y2="330.9" stroke="#2b2a29" stroke-width="2.2" />
<text x="1028.3" y="289.8" font-size="17.5" font-weight="bold" fill="#2b2a29" text-anchor="start" textLength="96" lengthAdjust="spacingAndGlyphs"  stroke="#2b2a29" stroke-width="0.7" stroke-linejoin="round">Well is Full</text>
<text x="1028.3" y="337" font-size="17.5" font-weight="bold" fill="#2b2a29" text-anchor="start" textLength="116.6" lengthAdjust="spacingAndGlyphs"  stroke="#2b2a29" stroke-width="0.7" stroke-linejoin="round">Well is Empty</text>
<line x1="1184.1" y1="284.6" x2="1203.8999999999999" y2="284.6" stroke="#2b2a29" stroke-width="2.1" />
<line x1="1240.1999999999998" y1="284.6" x2="1260.1" y2="284.6" stroke="#2b2a29" stroke-width="2.1" />
<line x1="1184.1" y1="330.9" x2="1203.8999999999999" y2="330.9" stroke="#2b2a29" stroke-width="2.1" />
<line x1="1240.1999999999998" y1="330.9" x2="1260.1" y2="330.9" stroke="#2b2a29" stroke-width="2.1" />
<circle cx="1203.8999999999999" cy="284.6" r="4.7" fill="#2b2a29"/>
<circle cx="1240.1999999999998" cy="284.6" r="4.7" fill="#2b2a29"/>
<line x1="1240.1999999999998" y1="284.6" x2="1210.3" y2="262.2" stroke="#2b2a29" stroke-width="2.2" />
<circle cx="1203.8999999999999" cy="330.9" r="4.7" fill="#2b2a29"/>
<circle cx="1240.1999999999998" cy="330.9" r="4.7" fill="#2b2a29"/>
<line x1="1203.3999999999999" y1="327" x2="1240.1999999999998" y2="330.9" stroke="#2b2a29" stroke-width="2.2" />
<text x="1267.5" y="289.8" font-size="17.5" font-weight="bold" fill="#2b2a29" text-anchor="start" textLength="99" lengthAdjust="spacingAndGlyphs"  stroke="#2b2a29" stroke-width="0.7" stroke-linejoin="round">Tank is Full</text>
<text x="1267.5" y="337" font-size="17.5" font-weight="bold" fill="#2b2a29" text-anchor="start" textLength="119.6" lengthAdjust="spacingAndGlyphs"  stroke="#2b2a29" stroke-width="0.7" stroke-linejoin="round">Tank is Empty</text>
<rect x="971.5" y="383.6" width="113.6" height="74.3" fill="none" stroke="#2b2a29" stroke-width="2.6"/>
<line x1="971.5" y1="410.9" x2="1085.1" y2="410.9" stroke="#2b2a29" stroke-width="2.6" />
<line x1="1009.6" y1="410.9" x2="1009.6" y2="457.9" stroke="#2b2a29" stroke-width="2.6" />
<line x1="1047.7" y1="410.9" x2="1047.7" y2="457.9" stroke="#2b2a29" stroke-width="2.6" />
<text x="985.3" y="404.8" font-size="17.6" fill="#e31e24" text-anchor="start" textLength="86.7" lengthAdjust="spacingAndGlyphs" >Electrodes</text>
<text x="995.0" y="446.8" font-size="17.5" font-weight="bold" fill="#2b2a29" text-anchor="start" textLength="24" lengthAdjust="spacingAndGlyphs" transform="rotate(-90 995.0 446.8)"  stroke="#2b2a29" stroke-width="0.2" stroke-linejoin="round">Up</text>
<text x="1034.7" y="453.4" font-size="17.5" font-weight="bold" fill="#2b2a29" text-anchor="start" textLength="35.5" lengthAdjust="spacingAndGlyphs" transform="rotate(-90 1034.7 453.4)"  stroke="#2b2a29" stroke-width="0.2" stroke-linejoin="round">Low</text>
<text x="1071.0" y="456.4" font-size="14" font-weight="bold" fill="#2b2a29" text-anchor="start" textLength="41" lengthAdjust="spacingAndGlyphs" transform="rotate(-90 1071.0 456.4)"  stroke="#2b2a29" stroke-width="0.1" stroke-linejoin="round">Bottom</text>
<rect x="1236.8" y="383.6" width="113.6" height="74.3" fill="none" stroke="#2b2a29" stroke-width="2.6"/>
<line x1="1236.8" y1="410.9" x2="1350.3999999999999" y2="410.9" stroke="#2b2a29" stroke-width="2.6" />
<line x1="1274.8999999999999" y1="410.9" x2="1274.8999999999999" y2="457.9" stroke="#2b2a29" stroke-width="2.6" />
<line x1="1313.0" y1="410.9" x2="1313.0" y2="457.9" stroke="#2b2a29" stroke-width="2.6" />
<text x="1250.6" y="404.8" font-size="17.6" fill="#e31e24" text-anchor="start" textLength="86.7" lengthAdjust="spacingAndGlyphs" >Electrodes</text>
<text x="1260.3" y="446.8" font-size="17.5" font-weight="bold" fill="#2b2a29" text-anchor="start" textLength="24" lengthAdjust="spacingAndGlyphs" transform="rotate(-90 1260.3 446.8)"  stroke="#2b2a29" stroke-width="0.2" stroke-linejoin="round">Up</text>
<text x="1300.0" y="453.4" font-size="17.5" font-weight="bold" fill="#2b2a29" text-anchor="start" textLength="35.5" lengthAdjust="spacingAndGlyphs" transform="rotate(-90 1300.0 453.4)"  stroke="#2b2a29" stroke-width="0.2" stroke-linejoin="round">Low</text>
<text x="1336.3" y="456.4" font-size="14" font-weight="bold" fill="#2b2a29" text-anchor="start" textLength="41" lengthAdjust="spacingAndGlyphs" transform="rotate(-90 1336.3 456.4)"  stroke="#2b2a29" stroke-width="0.1" stroke-linejoin="round">Bottom</text>
<path d="M987.9,520.7 H1068.2 V537.9 H1082 A52.8,57.35 0 0 1 1082,652.6 H975.7 A52.8,57.35 0 0 1 975.7,537.9 H987.9 Z" fill="#a2d9f7" stroke="#2b2a29" stroke-width="1.7"/>
<line x1="997.6" y1="457.9" x2="997.6" y2="536" stroke="#2b2a29" stroke-width="2.3" />
<rect x="994.3000000000001" y="535" width="6.6" height="18.6" fill="#2b2a29"/>
<line x1="1028.3" y1="457.9" x2="1028.3" y2="595.3" stroke="#2b2a29" stroke-width="2.3" />
<rect x="1025.0" y="594.3" width="6.6" height="18.1" fill="#2b2a29"/>
<line x1="1060.8" y1="457.9" x2="1060.8" y2="613.2" stroke="#2b2a29" stroke-width="2.3" />
<rect x="1057.5" y="612.2" width="6.6" height="17.8" fill="#2b2a29"/>
<text x="989" y="689.6" font-size="32.5" font-weight="bold" fill="#2b2a29" text-anchor="start" textLength="85.2" lengthAdjust="spacingAndGlyphs"  stroke="#2b2a29" stroke-width="0.7" stroke-linejoin="round">TANK</text>
<rect x="1229.4" y="529" width="132.79999999999995" height="117" fill="#a2d9f7"/>
<polyline points="1229.4,529 1229.4,646 1362.2,646 1362.2,529" fill="none" stroke="#2b2a29" stroke-width="2.2" stroke-linejoin="miter" />
<line x1="1229.4" y1="530.4" x2="1216.7" y2="537.9" stroke="#2b2a29" stroke-width="2" />
<line x1="1362.2" y1="530.4" x2="1374.9" y2="537.9" stroke="#2b2a29" stroke-width="2" />
<line x1="1229.4" y1="540.4" x2="1216.7" y2="547.9" stroke="#2b2a29" stroke-width="2" />
<line x1="1362.2" y1="540.4" x2="1374.9" y2="547.9" stroke="#2b2a29" stroke-width="2" />
<line x1="1229.4" y1="550.4" x2="1216.7" y2="557.9" stroke="#2b2a29" stroke-width="2" />
<line x1="1362.2" y1="550.4" x2="1374.9" y2="557.9" stroke="#2b2a29" stroke-width="2" />
<line x1="1229.4" y1="560.4" x2="1216.7" y2="567.9" stroke="#2b2a29" stroke-width="2" />
<line x1="1362.2" y1="560.4" x2="1374.9" y2="567.9" stroke="#2b2a29" stroke-width="2" />
<line x1="1229.4" y1="570.4" x2="1216.7" y2="577.9" stroke="#2b2a29" stroke-width="2" />
<line x1="1362.2" y1="570.4" x2="1374.9" y2="577.9" stroke="#2b2a29" stroke-width="2" />
<line x1="1229.4" y1="580.4" x2="1216.7" y2="587.9" stroke="#2b2a29" stroke-width="2" />
<line x1="1362.2" y1="580.4" x2="1374.9" y2="587.9" stroke="#2b2a29" stroke-width="2" />
<line x1="1229.4" y1="590.4" x2="1216.7" y2="597.9" stroke="#2b2a29" stroke-width="2" />
<line x1="1362.2" y1="590.4" x2="1374.9" y2="597.9" stroke="#2b2a29" stroke-width="2" />
<line x1="1229.4" y1="600.4" x2="1216.7" y2="607.9" stroke="#2b2a29" stroke-width="2" />
<line x1="1362.2" y1="600.4" x2="1374.9" y2="607.9" stroke="#2b2a29" stroke-width="2" />
<line x1="1229.4" y1="610.4" x2="1216.7" y2="617.9" stroke="#2b2a29" stroke-width="2" />
<line x1="1362.2" y1="610.4" x2="1374.9" y2="617.9" stroke="#2b2a29" stroke-width="2" />
<line x1="1229.4" y1="620.4" x2="1216.7" y2="627.9" stroke="#2b2a29" stroke-width="2" />
<line x1="1362.2" y1="620.4" x2="1374.9" y2="627.9" stroke="#2b2a29" stroke-width="2" />
<line x1="1229.4" y1="630.4" x2="1216.7" y2="637.9" stroke="#2b2a29" stroke-width="2" />
<line x1="1362.2" y1="630.4" x2="1374.9" y2="637.9" stroke="#2b2a29" stroke-width="2" />
<line x1="1229.4" y1="640.4" x2="1216.7" y2="647.9" stroke="#2b2a29" stroke-width="2" />
<line x1="1362.2" y1="640.4" x2="1374.9" y2="647.9" stroke="#2b2a29" stroke-width="2" />
<line x1="1229.4" y1="646" x2="1216.7" y2="653.8" stroke="#2b2a29" stroke-width="2" />
<line x1="1362.2" y1="646" x2="1374.9" y2="653.8" stroke="#2b2a29" stroke-width="2" />
<line x1="1239.6000000000001" y1="646" x2="1226.9" y2="653.8" stroke="#2b2a29" stroke-width="2" />
<line x1="1249.8000000000002" y1="646" x2="1237.1000000000001" y2="653.8" stroke="#2b2a29" stroke-width="2" />
<line x1="1260.0" y1="646" x2="1247.3" y2="653.8" stroke="#2b2a29" stroke-width="2" />
<line x1="1270.2" y1="646" x2="1257.5" y2="653.8" stroke="#2b2a29" stroke-width="2" />
<line x1="1280.4" y1="646" x2="1267.7" y2="653.8" stroke="#2b2a29" stroke-width="2" />
<line x1="1290.6000000000001" y1="646" x2="1277.9" y2="653.8" stroke="#2b2a29" stroke-width="2" />
<line x1="1300.8000000000002" y1="646" x2="1288.1000000000001" y2="653.8" stroke="#2b2a29" stroke-width="2" />
<line x1="1311.0" y1="646" x2="1298.3" y2="653.8" stroke="#2b2a29" stroke-width="2" />
<line x1="1321.2" y1="646" x2="1308.5" y2="653.8" stroke="#2b2a29" stroke-width="2" />
<line x1="1331.4" y1="646" x2="1318.7" y2="653.8" stroke="#2b2a29" stroke-width="2" />
<line x1="1341.6000000000001" y1="646" x2="1328.9" y2="653.8" stroke="#2b2a29" stroke-width="2" />
<line x1="1351.8000000000002" y1="646" x2="1339.1000000000001" y2="653.8" stroke="#2b2a29" stroke-width="2" />
<line x1="1362.0" y1="646" x2="1349.3" y2="653.8" stroke="#2b2a29" stroke-width="2" />
<line x1="1257.7" y1="457.9" x2="1257.7" y2="536" stroke="#2b2a29" stroke-width="2.3" />
<rect x="1254.4" y="535" width="6.6" height="18.6" fill="#2b2a29"/>
<line x1="1293.2" y1="457.9" x2="1293.2" y2="595.3" stroke="#2b2a29" stroke-width="2.3" />
<rect x="1289.9" y="594.3" width="6.6" height="18.1" fill="#2b2a29"/>
<line x1="1331" y1="457.9" x2="1331" y2="613.2" stroke="#2b2a29" stroke-width="2.3" />
<rect x="1327.7" y="612.2" width="6.6" height="17.8" fill="#2b2a29"/>
<text x="1254.4" y="689.6" font-size="32.5" font-weight="bold" fill="#2b2a29" text-anchor="start" textLength="86" lengthAdjust="spacingAndGlyphs"  stroke="#2b2a29" stroke-width="0.7" stroke-linejoin="round">WELL</text>
</svg>
</body></html>
